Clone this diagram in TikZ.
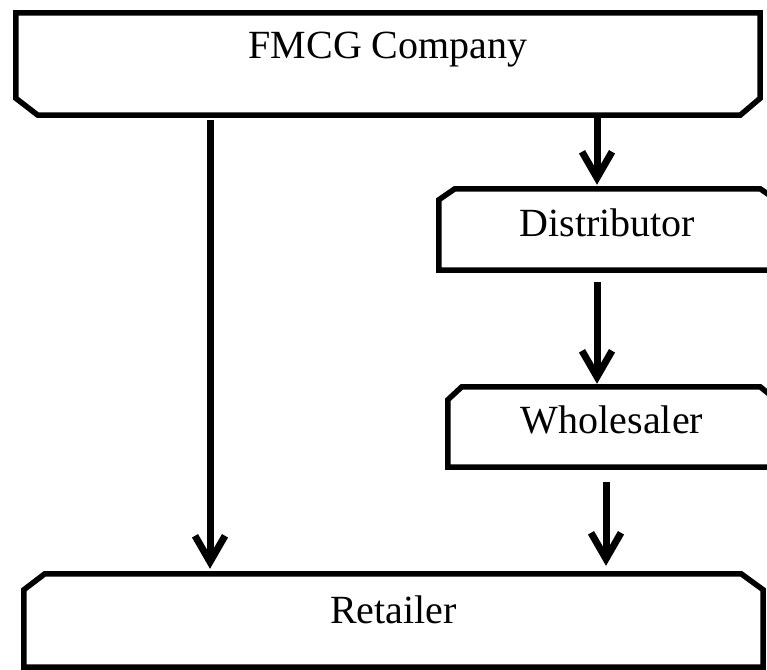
\documentclass[tikz,border=0pt]{standalone}
\usepackage{fontspec}
\setmainfont{Liberation Serif}
\usetikzlibrary{arrows.meta}

\begin{document}
\begin{tikzpicture}[x=1pt,y=-1pt,
    box/.style={inner sep=0pt,font=\fontsize{40}{48}\selectfont},
    edge/.style={line width=5.5pt,line join=miter},
    flow/.style={line width=7pt,-{Straight Barb[length=26pt,width=30pt]},
      preaction={draw=gray!60,transform canvas={xshift=1.2pt,yshift=-1.2pt}}}]
  \useasboundingbox (0,0) rectangle (767,669);
  \node[box,minimum width=744pt,text height=46pt,text depth=56pt] (fmcg) at (388,64) {FMCG Company};
  \node[box,minimum width=337pt,text height=47pt,text depth=34pt] (dist) at (607.5,229.5) {Distributor};
  \node[box,minimum width=328pt,text height=46pt,text depth=34pt] (whole) at (612,427) {Wholesaler};
  \node[box,minimum width=739pt,text height=49pt,text depth=44pt] (retail) at (393.5,620.5) {Retailer};
  \draw[edge] (fmcg.north west) -- (fmcg.north east) -- ([yshift=17pt]fmcg.south east)
    -- ([xshift=-20pt]fmcg.south east) -- ([xshift=22pt]fmcg.south west)
    -- ([yshift=17pt]fmcg.south west) -- cycle;
  \draw[edge] (dist.south west) -- ([yshift=-11pt]dist.north west) -- ([xshift=16pt]dist.north west)
    -- ([xshift=-16pt]dist.north east) -- ([yshift=-11pt]dist.north east) -- (dist.south east) -- cycle;
  \draw[edge] (whole.south west) -- ([yshift=-13pt]whole.north west) -- ([xshift=14pt]whole.north west)
    -- ([xshift=-16pt]whole.north east) -- ([yshift=-13pt]whole.north east) -- (whole.south east) -- cycle;
  \draw[edge] (retail.south west) -- ([yshift=-16pt]retail.north west) -- ([xshift=21pt]retail.north west)
    -- ([xshift=-22pt]retail.north east) -- ([yshift=-16pt]retail.north east) -- (retail.south east) -- cycle;
  \coordinate (lft) at (210,0);
  \coordinate (rgt) at (597,0);
  \coordinate (low) at (606,0);
  \draw[flow,shorten <=5pt,shorten >=5pt] (fmcg.south -| lft) -- (retail.north -| lft);
  \draw[flow,shorten >=4pt] (fmcg.south -| rgt) -- (dist.north -| rgt);
  \draw[flow,shorten <=12pt,shorten >=3pt] (dist.south -| rgt) -- (whole.north -| rgt);
  \draw[flow,shorten <=15pt,shorten >=8pt] (whole.south -| low) -- (retail.north -| low);
\end{tikzpicture}
\end{document}
